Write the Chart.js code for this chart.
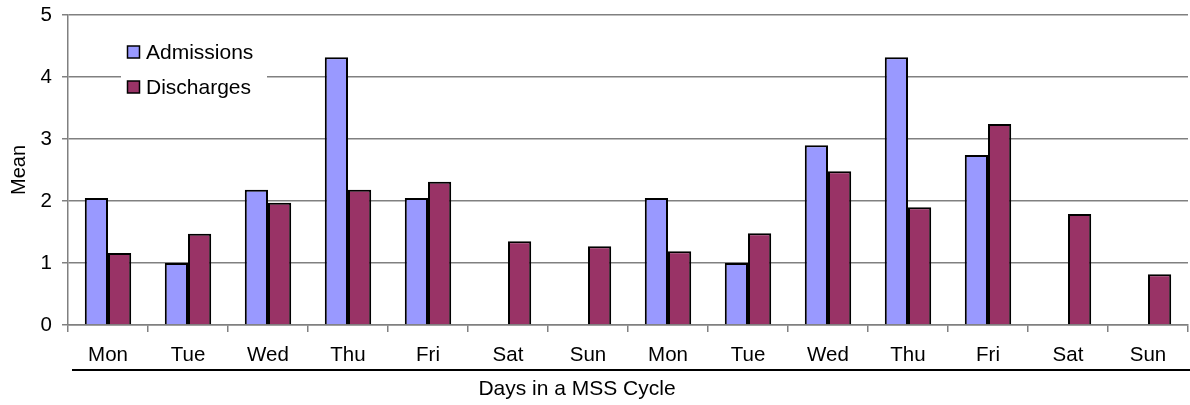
<!DOCTYPE html>
<html>
<head>
<meta charset="utf-8">
<script src="https://cdn.jsdelivr.net/npm/chart.js@4/dist/chart.umd.min.js"></script>
<style>
  html, body { margin: 0; padding: 0; background: #fff; }
  #wrap { width: 1190px; height: 405px; }
</style>
</head>
<body>
<div id="wrap"><canvas id="mssChart"></canvas></div>
<script>
// days in the two-week MSS cycle
const days = ['Mon', 'Tue', 'Wed', 'Thu', 'Fri', 'Sat', 'Sun', 'Mon', 'Tue', 'Wed', 'Thu', 'Fri', 'Sat', 'Sun'];
const admissions = [2.05, 1.0, 2.18, 4.32, 2.05, 0, 0, 2.05, 1.0, 2.9, 4.32, 2.74, 0, 0];
const discharges = [1.16, 1.47, 1.97, 2.18, 2.31, 1.35, 1.27, 1.19, 1.48, 2.48, 1.9, 3.24, 1.79, 0.82];
const yTicks = [0, 1, 2, 3, 4, 5];
const xTitle = 'Days in a MSS Cycle';

const font = "'Liberation Sans', Arial, sans-serif";

// legend box sitting inside the plot, covering the grid line
const boxLegend = {
  id: 'boxLegend',
  afterDatasetsDraw(chart) {
    const ctx = chart.ctx;
    const x = 121, y = 33;
    ctx.save();
    ctx.fillStyle = '#fff';
    ctx.fillRect(x, y, 146, 70);
    ctx.font = '21px ' + font;
    ctx.textBaseline = 'middle';
    chart.data.datasets.forEach((ds, i) => {
      const cy = y + 19 + i * 35;
      ctx.fillStyle = ds.backgroundColor;
      ctx.strokeStyle = '#000';
      ctx.lineWidth = 1.5;
      ctx.fillRect(x + 6.5, cy - 6, 12, 12);
      ctx.strokeRect(x + 6.5, cy - 6, 12, 12);
      ctx.fillStyle = '#000';
      ctx.fillText(ds.label, x + 25, cy + 1);
    });
    ctx.restore();
  }
};

// black rule under the day labels, and the axis title below it
const underline = {
  id: 'underline',
  afterDraw(chart) {
    const ctx = chart.ctx;
    ctx.save();
    ctx.strokeStyle = '#000';
    ctx.lineWidth = 2;
    ctx.beginPath();
    ctx.moveTo(72, 370);
    ctx.lineTo(1190, 370);
    ctx.stroke();
    ctx.fillStyle = '#000';
    ctx.font = '21px ' + font;
    ctx.textAlign = 'center';
    ctx.textBaseline = 'middle';
    ctx.fillText(xTitle, 577, 389);
    ctx.restore();
  }
};

new Chart(document.getElementById('mssChart'), {
  type: 'bar',
  data: {
    labels: days,
    datasets: [{
      label: 'Admissions',
      data: admissions,
      backgroundColor: '#9999FF',
      borderColor: '#000',
      borderWidth: 2,
      categoryPercentage: 0.58,
      barPercentage: 1.0
    }, {
      label: 'Discharges',
      data: discharges,
      backgroundColor: '#993366',
      borderColor: '#000',
      borderWidth: 2,
      categoryPercentage: 0.58,
      barPercentage: 1.0
    }]
  },
  options: {
    responsive: true,
    maintainAspectRatio: false,
    animation: false,
    layout: { padding: { top: 15, right: 2, left: 0, bottom: 0 } },
    plugins: {
      legend: { display: false },
      tooltip: { enabled: false }
    },
    scales: {
      x: {
        offset: true,
        grid: {
          offset: true,
          drawOnChartArea: false,
          color: '#808080',
          tickLength: 7,
          lineWidth: 1.5
        },
        border: { color: '#808080', width: 1.5 },
        ticks: { color: '#000', font: { family: font, size: 20.5 }, padding: 11, maxRotation: 0 },
        afterFit(scale) { scale.height = 80; scale.paddingLeft = 0; scale.paddingRight = 0; }
      },
      y: {
        min: 0,
        max: 5,
        afterBuildTicks(scale) { scale.ticks = yTicks.map(v => ({ value: v })); },
        grid: { color: '#808080', lineWidth: 1.5, tickLength: 6 },
        border: { color: '#808080', width: 1.5 },
        ticks: { color: '#000', font: { family: font, size: 20.5 }, padding: 10 },
        title: {
          display: true,
          text: 'Mean',
          color: '#000',
          font: { family: font, size: 20 },
          padding: { top: 7, bottom: 4 }
        },
        afterFit(scale) { scale.width = 68; scale.paddingTop = 0; scale.paddingBottom = 0; }
      }
    }
  },
  plugins: [boxLegend, underline]
});
</script>
</body>
</html>
